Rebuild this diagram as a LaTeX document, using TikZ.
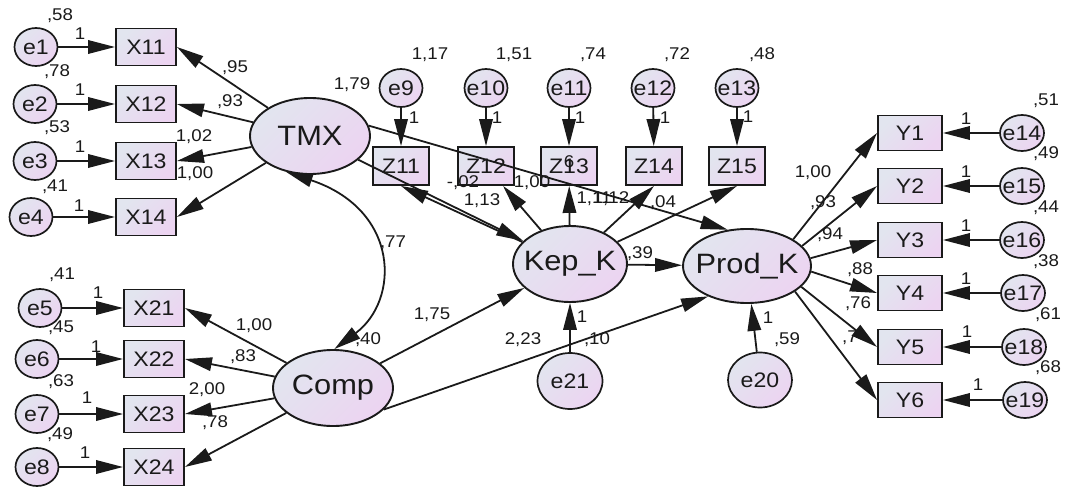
\documentclass[tikz,border=0pt]{standalone}
\usepackage{fontspec}
\setmainfont{Liberation Sans}[FakeStretch=1.1]
\usetikzlibrary{shapes.geometric,arrows.meta}
\definecolor{ink}{HTML}{1A1A1A}
\definecolor{shadeA}{HTML}{E2E5EF}
\definecolor{shadeB}{HTML}{ECD4F1}
% centred text that never widens its node
\newcommand\ctxt[1]{\makebox[0pt]{#1}}
\begin{document}
\begin{tikzpicture}[x=1pt,y=-1pt,
  every node/.style={text=ink},
  lat/.style={ellipse, draw=ink, line width=1.9pt, top color=shadeA, bottom color=shadeB, shading angle=45,
    minimum width=120pt, minimum height=76pt, inner sep=0pt, font=\fontsize{28}{28}\selectfont},
  err/.style={ellipse, draw=ink, line width=1.7pt, top color=shadeA, bottom color=shadeB, shading angle=45,
    minimum width=43pt, minimum height=38pt, inner sep=0pt, font=\fontsize{21}{21}\selectfont},
  bigerr/.style={err, minimum width=65pt, minimum height=56pt},
  obs/.style={rectangle, draw=ink, line width=1.9pt, top color=shadeA, bottom color=shadeB, shading angle=45,
    minimum width=60pt, minimum height=37pt, inner sep=0pt, font=\fontsize{21}{21}\selectfont},
  zobs/.style={obs, minimum width=56pt, minimum height=38pt},
  yobs/.style={obs, minimum width=64pt, minimum height=35pt},
  num/.style={inner sep=0pt, font=\fontsize{17}{17}\selectfont},
  arr/.style={draw=ink, line width=1.8pt, -{Triangle[length=27pt,width=13.5pt]}},
  biarr/.style={draw=ink, line width=1.8pt, {Triangle[length=27pt,width=13.5pt]}-{Triangle[length=27pt,width=13.5pt]}},
]
\useasboundingbox (0,0) rectangle (1066,487);

% ---- latent variables
\node[lat] (TMX)  at (310,136) {\ctxt{TMX}};
\node[lat] (Comp) at (333,388) {\ctxt{Comp}};
\node[lat, minimum width=114pt] (KepK)  at (570,264) {\ctxt{Kep\_K}};
\node[lat, minimum width=128pt, minimum height=74pt] (ProdK) at (747,266) {\ctxt{Prod\_K}};

% ---- TMX indicators
\node[obs] (X11) at (146,47)  {X11};
\node[obs] (X12) at (146,104) {X12};
\node[obs] (X13) at (146,161) {X13};
\node[obs] (X14) at (146,217) {X14};
\node[err] (e1) at (36,47)  {\ctxt{e1}};
\node[err] (e2) at (35,104) {\ctxt{e2}};
\node[err] (e3) at (35,161) {\ctxt{e3}};
\node[err] (e4) at (31,217) {\ctxt{e4}};

% ---- Comp indicators
\node[obs] (X21) at (154,308) {X21};
\node[obs] (X22) at (154,359) {X22};
\node[obs] (X23) at (154,414) {X23};
\node[obs] (X24) at (154,467) {X24};
\node[err] (e5) at (40,308) {\ctxt{e5}};
\node[err] (e6) at (37,359) {\ctxt{e6}};
\node[err] (e7) at (37,414) {\ctxt{e7}};
\node[err] (e8) at (37,467) {\ctxt{e8}};

% ---- Kep_K indicators
\node[zobs] (Z11) at (401,166) {Z11};
\node[zobs] (Z12) at (486,166) {Z12};
\node[zobs] (Z13) at (569,166) {Z13};
\node[zobs] (Z14) at (654,166) {Z14};
\node[zobs] (Z15) at (737,166) {Z15};
\node[err] (e9)  at (401,88) {\ctxt{e9}};
\node[err] (e10) at (486,88) {\ctxt{e10}};
\node[err] (e11) at (569,88) {\ctxt{e11}};
\node[err] (e12) at (653,88) {\ctxt{e12}};
\node[err] (e13) at (737,88) {\ctxt{e13}};

% ---- Prod_K indicators
\node[yobs] (Y1) at (910,133) {Y1};
\node[yobs] (Y2) at (910,186) {Y2};
\node[yobs] (Y3) at (910,240) {Y3};
\node[yobs] (Y4) at (910,293) {Y4};
\node[yobs] (Y5) at (910,347) {Y5};
\node[yobs] (Y6) at (910,400) {Y6};
\node[err, minimum width=44pt, minimum height=36pt] (e14) at (1022,133) {\ctxt{e14}};
\node[err, minimum width=44pt, minimum height=36pt] (e15) at (1022,186) {\ctxt{e15}};
\node[err, minimum width=44pt, minimum height=36pt] (e16) at (1022,240) {\ctxt{e16}};
\node[err, minimum width=44pt, minimum height=36pt] (e17) at (1023,293) {\ctxt{e17}};
\node[err, minimum width=44pt, minimum height=36pt] (e18) at (1024,347) {\ctxt{e18}};
\node[err, minimum width=44pt, minimum height=36pt] (e19) at (1025,400) {\ctxt{e19}};

% ---- structural disturbances
\node[bigerr] (e21) at (570,381) {\ctxt{e21}};
\node[bigerr, minimum width=64pt, minimum height=55pt] (e20) at (760,380) {\ctxt{e20}};

% ---- variance estimates
\node[num] (v1) at (60,16)  {,58};
\node[num] (v2) at (57,72)  {,78};
\node[num] (v3) at (57,128) {,53};
\node[num] (v4) at (55,187) {,41};
\node[num] (v5) at (62,275) {,41};
\node[num] (v6) at (61,328) {,45};
\node[num] (v7) at (61,382) {,63};
\node[num] (v8) at (60,435) {,49};
\node[num] (v9)  at (430,55) {1,17};
\node[num] (v10) at (514,55) {1,51};
\node[num] (v11) at (593,55) {,74};
\node[num] (v12) at (677,55) {,72};
\node[num] (v13) at (762,55) {,48};
\node[num] (v14) at (1046,101) {,51};
\node[num] (v15) at (1046,154) {,49};
\node[num] (v16) at (1046,208) {,44};
\node[num] (v17) at (1046,262) {,38};
\node[num] (v18) at (1048,315) {,61};
\node[num] (v19) at (1048,368) {,68};
\node[num] (vT)  at (352,85)  {1,79};
\node[num] (vC)  at (368,340) {,40};
\node[num] (cTC) at (393,243) {,77};
\node[num] (v21) at (597,340) {,10};
\node[num] (v20) at (787,340) {,59};
\node[num] (z13x) at (569,162) {6};

% ---- loadings and path coefficients
\node[num] (w11) at (235,68)  {,95};
\node[num] (w12) at (230,102) {,93};
\node[num] (w13) at (194,137) {1,02};
\node[num] (w14) at (195,174) {1,00};
\node[num] (w21) at (254,326) {1,00};
\node[num] (w22) at (243,357) {,83};
\node[num] (w23) at (207,390) {2,00};
\node[num] (w24) at (215,423) {,78};
\node[num] (pTK) at (463,183) {-,02};
\node[num] (w31) at (482,201) {1,13};
\node[num] (w32) at (532,183) {1,00};
\node[num] (w33) at (594,199) {1,11};
\node[num] (w34) at (611,199) {1,12};
\node[num] (w35) at (663,203) {,04};
\node[num] (pCK) at (432,315) {1,75};
\node[num] (pCP) at (523,340) {2,23};
\node[num] (pKP) at (640,254) {,39};
\node[num] (y1w) at (813,173) {1,00};
\node[num] (y2w) at (823,203) {,93};
\node[num] (y3w) at (830,235) {,94};
\node[num] (y4w) at (860,270) {,88};
\node[num] (y5w) at (858,304) {,76};
\node[num] (y6w) at (850,338) {,7};

% ---- fixed error weights
\node[num] (f1) at (80,34)  {1};
\node[num] (f2) at (80,90)  {1};
\node[num] (f3) at (80,147) {1};
\node[num] (f4) at (79,206) {1};
\node[num] (f5) at (98,293) {1};
\node[num] (f6) at (96,347) {1};
\node[num] (f7) at (87,398) {1};
\node[num] (f8) at (85,453) {1};
\node[num] (f9)  at (414,118) {1};
\node[num] (f10) at (497,118) {1};
\node[num] (f11) at (580,118) {1};
\node[num] (f12) at (665,118) {1};
\node[num] (f13) at (748,117) {1};
\node[num] (f14) at (966,119) {1};
\node[num] (f15) at (966,172) {1};
\node[num] (f16) at (966,226) {1};
\node[num] (f17) at (966,279) {1};
\node[num] (f18) at (967,332) {1};
\node[num] (f19) at (978,385) {1};
\node[num] (f21) at (582,317) {1};
\node[num] (f20) at (768,318) {1};

% ---- measurement paths
\draw[arr] (e1) -- (X11);
\draw[arr] (e2) -- (X12);
\draw[arr] (e3) -- (X13);
\draw[arr] (e4) -- (X14);
\draw[arr] (e5) -- (X21);
\draw[arr] (e6) -- (X22);
\draw[arr] (e7) -- (X23);
\draw[arr] (e8) -- (X24);
\draw[arr] (TMX) -- (X11.east);
\draw[arr] (TMX) -- (X12.east);
\draw[arr] (TMX) -- (X13.east);
\draw[arr] (TMX) -- (X14.east);
\draw[arr] (Comp) -- (X21.east);
\draw[arr] (Comp) -- (X22.east);
\draw[arr] (Comp) -- (X23.east);
\draw[arr] (Comp) -- (X24.east);

\draw[arr] (e9)  -- (Z11);
\draw[arr] (e10) -- (Z12);
\draw[arr] (e11) -- (Z13);
\draw[arr] (e12) -- (Z14);
\draw[arr] (e13) -- (Z15);
\draw[arr] (KepK) -- (Z11.south);
\draw[arr] (KepK) -- (Z12);
\draw[arr] (KepK) -- (Z13);
\draw[arr] (KepK) -- (Z14.south);
\draw[arr] (KepK) -- (Z15.south);

\draw[arr] (ProdK.30)  -- (Y1.west);
\draw[arr] (ProdK.20)  -- (Y2.west);
\draw[arr] (ProdK.7)   -- (Y3.west);
\draw[arr] (ProdK.-5)  -- (Y4.west);
\draw[arr] (ProdK.-21) -- (Y5.west);
\draw[arr] (ProdK.-28) -- (Y6.west);
\draw[arr] (e14) -- (Y1);
\draw[arr] (e15) -- (Y2);
\draw[arr] (e16) -- (Y3);
\draw[arr] (e17) -- (Y4);
\draw[arr] (e18) -- (Y5);
\draw[arr] (e19) -- (Y6);

% ---- structural paths
\draw[biarr] (TMX.236) .. controls (400,210) and (400,300) .. (Comp.88);
\draw[arr] (TMX) -- (KepK);
\draw[arr] (TMX.10) -- (ProdK.118);
\draw[arr] (Comp) -- (KepK);
\draw[arr] (Comp.-23) -- (ProdK.218);
\draw[arr] (KepK) -- (ProdK);
\draw[arr] (e21) -- (KepK);
\draw[arr] (e20) -- (ProdK);
\end{tikzpicture}
\end{document}
